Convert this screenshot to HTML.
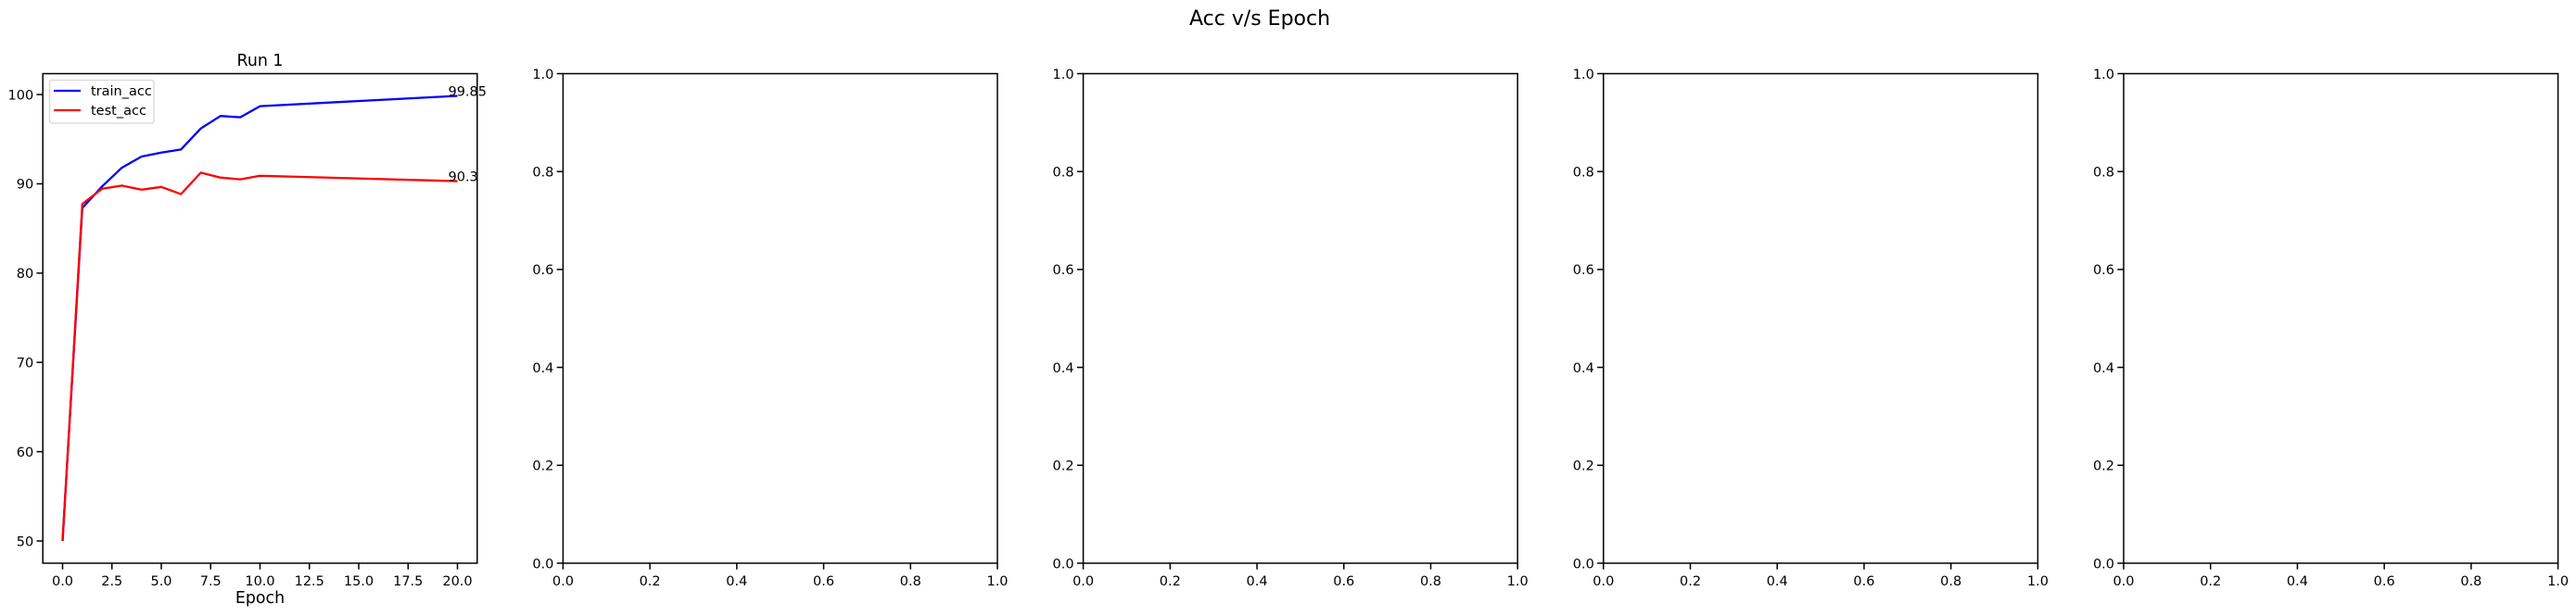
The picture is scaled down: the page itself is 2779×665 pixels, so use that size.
<!DOCTYPE html>
<html><head><meta charset="utf-8"><style>
html,body{margin:0;padding:0;background:#fff;}
svg{display:block;font-family:"DejaVu Sans","Liberation Sans",sans-serif;}
</style></head><body>
<svg id="fig" width="2779" height="665" viewBox="0 0 2779 665" xmlns="http://www.w3.org/2000/svg">
<rect width="2779" height="665" fill="#fff"/>
<text x="1359" y="27" font-size="22" text-anchor="middle">Acc v/s Epoch</text>
<g id="plots"></g>
</svg>
<script>
const epochs = [0,1,2,3,4,5,6,7,8,9,10,20];
const trainAcc = [50,87.3,89.7,91.8,93.05,93.5,93.85,96.2,97.6,97.45,98.7,99.85];
const testAcc = [50,87.75,89.45,89.8,89.35,89.65,88.85,91.25,90.7,90.5,90.9,90.3];
const run1XTicks = [0,2.5,5,7.5,10,12.5,15,17.5,20];
const run1XTickLabels = ["0.0","2.5","5.0","7.5","10.0","12.5","15.0","17.5","20.0"];
const run1YTicks = [50,60,70,80,90,100];
const emptyTicks = [0,0.2,0.4,0.6,0.8,1.0];
const emptyTickLabels = ["0.0","0.2","0.4","0.6","0.8","1.0"];

const NS = "http://www.w3.org/2000/svg";
const root = document.getElementById('plots');
function mk(tag, attrs, parent){
  const e = document.createElementNS(NS, tag);
  for (const k in attrs) e.setAttribute(k, attrs[k]);
  (parent||root).appendChild(e);
  return e;
}
const TOP = 79.5, BOT = 608, W = 468.6, STEP = 561.2, L0 = 46.2;

for (let p = 0; p < 5; p++) {
  const left = L0 + p*STEP, right = left + W;
  const g = mk('g', {});
  
  
  let xmin, xmax, ymin, ymax, xt, xtl, yt, ytl;
  if (p === 0) {
    xmin = -1; xmax = 21;
    ymin = 47.51; ymax = 102.34;
    xt = run1XTicks; xtl = run1XTickLabels; yt = run1YTicks; ytl = run1YTicks.map(String);
  } else {
    xmin = 0; xmax = 1; ymin = 0; ymax = 1;
    xt = emptyTicks; xtl = emptyTickLabels; yt = emptyTicks; ytl = emptyTickLabels;
  }
  const xs = v => left + (v - xmin) / (xmax - xmin) * W;
  const ys = v => BOT - (v - ymin) / (ymax - ymin) * (BOT - TOP);

  xt.forEach((v, i) => {
    const t = mk('line', {x1: xs(v), x2: xs(v), y1: BOT, y2: BOT + 6.7, stroke: '#000', 'stroke-width': 1.5}, g);
    
    
    const l = mk('text', {x: xs(v), y: BOT + 24, 'font-size': 14.5, 'text-anchor': 'middle'}, g);
    
    
    l.textContent = xtl[i];
  });
  yt.forEach((v, i) => {
    const t = mk('line', {x1: left - 6.7, x2: left, y1: ys(v), y2: ys(v), stroke: '#000', 'stroke-width': 1.5}, g);
    
    
    const l = mk('text', {x: left - 10, y: ys(v) + 5.3, 'font-size': 14.5, 'text-anchor': 'end'}, g);
    
    
    l.textContent = ytl[i];
  });

  if (p === 0) {
    const mkLine = (vals, color, name) => {
      const pts = epochs.map((e, i) => xs(e).toFixed(2) + ',' + ys(vals[i]).toFixed(2)).join(' ');
      const pl = mk('polyline', {points: pts, fill: 'none', stroke: color, 'stroke-width': 2.3, 'stroke-linejoin': 'round'}, g);
      
      
    };
    mkLine(trainAcc, '#0000ff', 'train-acc-line');
    mkLine(testAcc, '#ff0000', 'test-acc-line');
    const last = epochs.length - 1;
    const a1 = mk('text', {x: xs(epochs[last] - 0.47), y: ys(trainAcc[last]), 'font-size': 14.5}, g);
    
    
    a1.textContent = String(trainAcc[last]);
    const a2 = mk('text', {x: xs(epochs[last] - 0.47), y: ys(testAcc[last]), 'font-size': 14.5}, g);
    
    
    a2.textContent = String(testAcc[last]);

    const title = mk('text', {x: (left + right) / 2, y: 71, 'font-size': 17.4, 'text-anchor': 'middle'}, g);
    
    
    title.textContent = 'Run 1';
    const xl = mk('text', {x: (left + right) / 2, y: 651, 'font-size': 17.4, 'text-anchor': 'middle'}, g);
    
    
    xl.textContent = 'Epoch';

    const lg = mk('g', {}, g);
    
    
    mk('rect', {x: 53.5, y: 86.5, width: 112.5, height: 46.5, rx: 2.5, fill: '#fff', 'fill-opacity': 0.8, stroke: '#d6d6d6', 'stroke-width': 1.3}, lg);
    const e1 = mk('g', {}, lg);
    
    
    mk('line', {x1: 58, x2: 87, y1: 98, y2: 98, stroke: '#0000ff', 'stroke-width': 2.3}, e1);
    const t1 = mk('text', {x: 98, y: 103, 'font-size': 14.5}, e1);
    t1.textContent = 'train_acc';
    const e2 = mk('g', {}, lg);
    
    
    mk('line', {x1: 58, x2: 87, y1: 119, y2: 119, stroke: '#ff0000', 'stroke-width': 2.3}, e2);
    const t2 = mk('text', {x: 98, y: 124, 'font-size': 14.5}, e2);
    t2.textContent = 'test_acc';
  }

  const fr = mk('rect', {x: left, y: TOP, width: W, height: BOT - TOP, fill: 'none', stroke: '#000', 'stroke-width': 1.5}, g);
  
  
}
</script>
</body></html>
